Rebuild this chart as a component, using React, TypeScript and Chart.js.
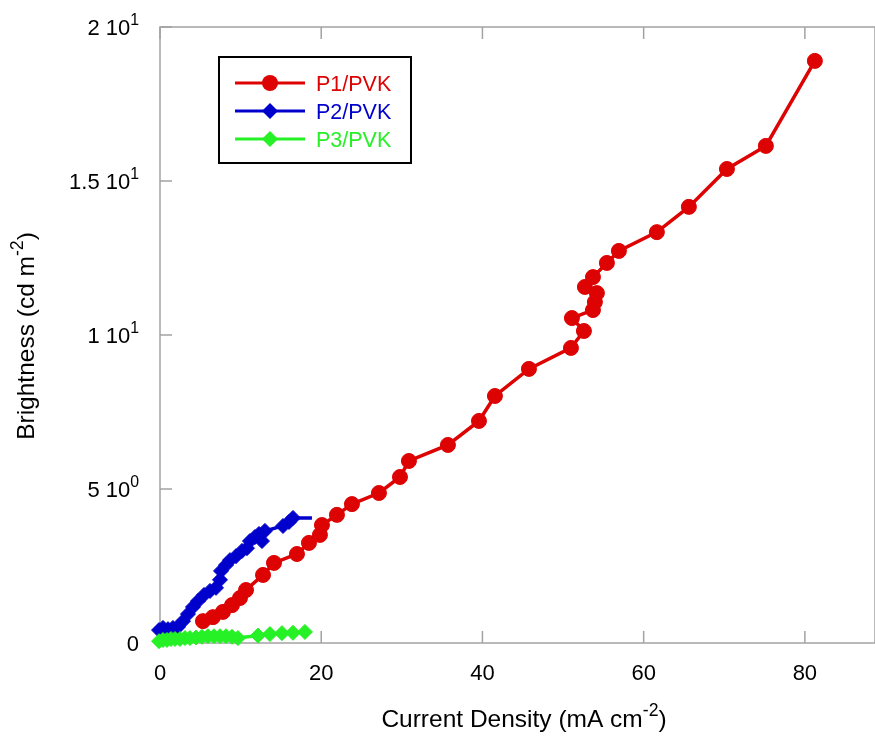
import React, { useEffect, useRef } from 'react';
import { Chart, registerables } from 'chart.js';

Chart.register(...registerables);

// ---------- data ----------
const seriesLabels = ['P1/PVK', 'P2/PVK', 'P3/PVK'];
const seriesColors = ['#dd0303', '#0000cc', '#26f026'];

const p1X = [5.33, 6.57, 7.81, 8.93, 9.92, 10.67, 12.78, 14.14, 16.99, 18.48, 19.84, 20.09, 21.95, 23.81, 27.16, 29.77, 30.88, 35.72, 39.57, 41.55, 45.77, 50.98, 52.59, 51.1, 53.71, 53.95, 54.2, 52.71, 53.71, 55.44, 56.93, 61.64, 65.61, 70.33, 75.16, 81.24];
const p1Y = [0.71, 0.84, 1.01, 1.23, 1.46, 1.72, 2.21, 2.6, 2.89, 3.25, 3.51, 3.83, 4.16, 4.51, 4.87, 5.39, 5.91, 6.43, 7.21, 8.02, 8.9, 9.58, 10.13, 10.55, 10.81, 11.07, 11.36, 11.56, 11.88, 12.34, 12.73, 13.34, 14.16, 15.39, 16.14, 18.9];

const p2X = [-0.12, 0.37, 0.99, 1.61, 2.23, 2.85, 3.47, 4.09, 4.71, 5.46, 6.2, 6.95, 7.44, 7.57, 8.19, 8.68, 9.43, 10.17, 10.79, 11.16, 11.78, 12.28, 12.65, 13.02, 15.26, 16.0, 16.5, 18.85];
const p2Y = [0.42, 0.49, 0.45, 0.49, 0.52, 0.71, 0.94, 1.17, 1.36, 1.56, 1.69, 1.79, 2.05, 2.34, 2.53, 2.69, 2.82, 2.99, 3.08, 3.31, 3.44, 3.54, 3.31, 3.64, 3.8, 3.93, 4.06, 4.06];

const p3X = [-0.12, 0.37, 0.87, 1.36, 1.86, 2.48, 3.1, 3.72, 4.47, 5.21, 5.95, 6.7, 7.44, 8.19, 8.93, 9.67, 12.16, 13.64, 15.13, 16.5, 17.98];
const p3Y = [0.06, 0.1, 0.1, 0.13, 0.13, 0.13, 0.16, 0.16, 0.18, 0.2, 0.22, 0.22, 0.22, 0.22, 0.2, 0.16, 0.24, 0.29, 0.32, 0.33, 0.36];

const xTickValues = [0, 20, 40, 60, 80];
const xTickLabels = ['0', '20', '40', '60', '80'];
const yTickValues = [0, 5, 10, 15, 20];
const yTickMantissas = ['0', '5', '1', '1.5', '2'];
const yTickExponents = ['', '0', '1', '1', '1'];

const xTitleMain = 'Current Density (mA cm';
const xTitleSup = '-2';
const xTitleEnd = ')';
const yTitleMain = 'Brightness (cd m';
const yTitleSup = '-2';
const yTitleEnd = ')';

const X_MIN = 0;
const X_MAX = 88.7;
const Y_MIN = 0;
const Y_MAX = 20;

// ---------- drawing helpers ----------
const FONT = '"Liberation Sans", Arial, Helvetica, sans-serif';
type Part = { t: string; sup?: boolean };

function drawRich(ctx: CanvasRenderingContext2D, parts: Part[], x: number, y: number, align: 'left' | 'right' | 'center', size: number, color: string) {
  const supSize = size * 0.72;
  let w = 0;
  const ws: number[] = [];
  for (const p of parts) {
    ctx.font = `${p.sup ? supSize : size}px ${FONT}`;
    const m = ctx.measureText(p.t).width;
    ws.push(m);
    w += m;
  }
  let cx = align === 'left' ? x : align === 'right' ? x - w : x - w / 2;
  ctx.fillStyle = color;
  ctx.textAlign = 'left';
  ctx.textBaseline = 'alphabetic';
  parts.forEach((p, i) => {
    ctx.font = `${p.sup ? supSize : size}px ${FONT}`;
    ctx.fillText(p.t, cx, p.sup ? y - size * 0.44 : y);
    cx += ws[i];
  });
}

function drawMarker(ctx: CanvasRenderingContext2D, style: string, x: number, y: number, r: number, color: string) {
  ctx.beginPath();
  if (style === 'circle') {
    ctx.arc(x, y, r, 0, Math.PI * 2);
  } else {
    ctx.moveTo(x, y - r);
    ctx.lineTo(x + r, y);
    ctx.lineTo(x, y + r);
    ctx.lineTo(x - r, y);
    ctx.closePath();
  }
  ctx.fillStyle = color;
  ctx.fill();
}

const framePlugin = {
  id: 'frameAxes',
  beforeDatasetsDraw(chart: any) {
    const { ctx, chartArea } = chart;
    const xs = chart.scales.x;
    const ys = chart.scales.y;
    ctx.save();
    ctx.strokeStyle = '#a3a3a3';
    ctx.lineWidth = 1.5;
    ctx.strokeRect(chartArea.left, chartArea.top, chartArea.right - chartArea.left, chartArea.bottom - chartArea.top);
    const tl = 12;
    ctx.beginPath();
    for (const t of xs.ticks) {
      const px = xs.getPixelForValue(t.value);
      ctx.moveTo(px, chartArea.bottom);
      ctx.lineTo(px, chartArea.bottom - tl);
      ctx.moveTo(px, chartArea.top);
      ctx.lineTo(px, chartArea.top + tl);
    }
    for (const t of ys.ticks) {
      const py = ys.getPixelForValue(t.value);
      ctx.moveTo(chartArea.left, py);
      ctx.lineTo(chartArea.left + tl, py);
    }
    ctx.stroke();
    ctx.restore();
  },
  afterDraw(chart: any) {
    const { ctx, chartArea } = chart;
    const xs = chart.scales.x;
    const ys = chart.scales.y;
    ctx.save();
    const tickSize = 22;
    // x tick labels
    xs.ticks.forEach((t: any) => {
      const idx = xTickValues.indexOf(t.value);
      const lbl = idx >= 0 ? xTickLabels[idx] : String(t.value);
      drawRich(ctx, [{ t: lbl }], xs.getPixelForValue(t.value), chartArea.bottom + 37, 'center', tickSize, '#000');
    });
    // y tick labels
    ys.ticks.forEach((t: any) => {
      const idx = yTickValues.indexOf(t.value);
      if (idx < 0) return;
      const parts: Part[] = [{ t: yTickMantissas[idx] + (yTickExponents[idx] ? ' 10' : '') }];
      if (yTickExponents[idx]) parts.push({ t: yTickExponents[idx], sup: true });
      drawRich(ctx, parts, chartArea.left - 21, ys.getPixelForValue(t.value) + 8, 'right', tickSize, '#000');
    });
    // x title
    const titleSize = 24.5;
    drawRich(ctx, [{ t: xTitleMain }, { t: xTitleSup, sup: true }, { t: xTitleEnd }], 524, chartArea.bottom + 84, 'center', titleSize, '#000');
    // y title
    ctx.save();
    ctx.translate(34, (chartArea.top + chartArea.bottom) / 2 + 1);
    ctx.rotate(-Math.PI / 2);
    drawRich(ctx, [{ t: yTitleMain }, { t: yTitleSup, sup: true }, { t: yTitleEnd }], 0, 0, 'center', titleSize, '#000');
    ctx.restore();

    // legend
    const bx = chartArea.left + 59;
    const by = chartArea.top + 30;
    const bw = 192;
    const bh = 106;
    ctx.strokeStyle = '#000';
    ctx.lineWidth = 2;
    ctx.strokeRect(bx, by, bw, bh);
    const styles = ['circle', 'diamond', 'diamond'];
    seriesLabels.forEach((label, i) => {
      const ry = by + 26 + i * 28;
      const c = seriesColors[i];
      ctx.strokeStyle = c;
      ctx.lineWidth = 3;
      ctx.beginPath();
      ctx.moveTo(bx + 16, ry);
      ctx.lineTo(bx + 86, ry);
      ctx.stroke();
      drawMarker(ctx, styles[i], bx + 51, ry, styles[i] === 'circle' ? 8 : 8, c);
      drawRich(ctx, [{ t: label }], bx + 97, ry + 7.5, 'left', 21.5, c);
    });
    ctx.restore();
  },
};

function toPoints(xs: number[], ys: number[]) {
  return xs.map((x, i) => ({ x, y: ys[i] }));
}

export default function App() {
  const ref = useRef<HTMLCanvasElement | null>(null);
  useEffect(() => {
    if (!ref.current) return;
    const chart = new Chart(ref.current, {
      type: 'line',
      data: {
        datasets: [
          {
            label: seriesLabels[0],
            data: toPoints(p1X, p1Y),
            borderColor: seriesColors[0],
            backgroundColor: seriesColors[0],
            borderWidth: 3.5,
            pointStyle: 'circle',
            pointRadius: 7.5,
            pointBorderWidth: 1,
            pointBorderColor: seriesColors[0],
            pointBackgroundColor: seriesColors[0],
            tension: 0,
            clip: false as any,
            order: 1,
          },
          {
            label: seriesLabels[1],
            data: toPoints(p2X, p2Y),
            borderColor: seriesColors[1],
            backgroundColor: seriesColors[1],
            borderWidth: 3.5,
            pointStyle: 'rectRot',
            pointRadius: (c: any) => (c.dataIndex === p2X.length - 1 ? 0 : 7.5),
            pointBorderWidth: 1,
            pointBorderColor: seriesColors[1],
            pointBackgroundColor: seriesColors[1],
            tension: 0,
            clip: false as any,
            order: 2,
          },
          {
            label: seriesLabels[2],
            data: toPoints(p3X, p3Y),
            borderColor: seriesColors[2],
            backgroundColor: seriesColors[2],
            borderWidth: 3.5,
            pointStyle: 'rectRot',
            pointRadius: 7.5,
            pointBorderWidth: 1,
            pointBorderColor: seriesColors[2],
            pointBackgroundColor: seriesColors[2],
            tension: 0,
            clip: false as any,
            order: 0,
          },
        ],
      },
      options: {
        animation: false,
        responsive: false,
        devicePixelRatio: 1,
        events: [],
        layout: { autoPadding: false, padding: { top: 27, right: 0, left: 0, bottom: 0 } },
        plugins: { legend: { display: false }, tooltip: { enabled: false } },
        scales: {
          x: {
            type: 'linear',
            min: X_MIN,
            max: X_MAX,
            grid: { display: false },
            border: { display: false },
            ticks: { display: false },
            afterBuildTicks: (s: any) => {
              s.ticks = xTickValues.map((v) => ({ value: v }));
            },
            afterFit: (s: any) => {
              s.height = 95;
            },
          },
          y: {
            type: 'linear',
            min: Y_MIN,
            max: Y_MAX,
            grid: { display: false },
            border: { display: false },
            ticks: { display: false },
            afterBuildTicks: (s: any) => {
              s.ticks = yTickValues.map((v) => ({ value: v }));
            },
            afterFit: (s: any) => {
              s.width = 160;
            },
          },
        },
      } as any,
      plugins: [framePlugin],
    });
    return () => chart.destroy();
  }, []);
  return (
    <div style={{ position: 'absolute', left: 0, top: 0, width: 875, height: 738, background: '#fff' }}>
      <canvas ref={ref} width={875} height={738} style={{ width: 875, height: 738, display: 'block' }} />
    </div>
  );
}
